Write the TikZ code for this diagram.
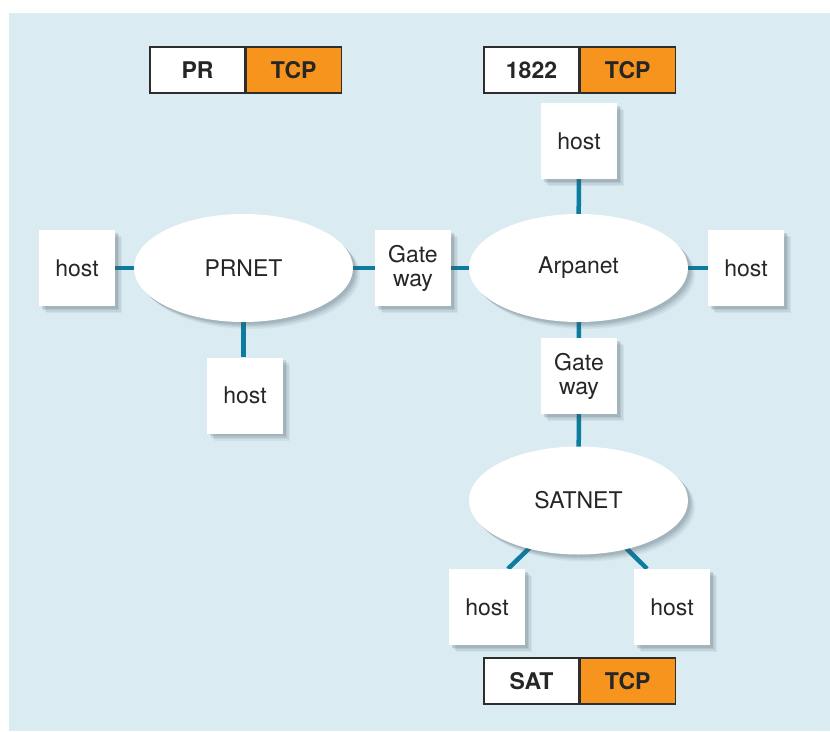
\documentclass[tikz,border=0pt]{standalone}
\usepackage{fontspec}
\setmainfont{TeX Gyre Heros}
\usetikzlibrary{shapes.geometric,shadows}
\definecolor{bgblue}{RGB}{219,235,242}
\definecolor{linkblue}{RGB}{14,124,158}
\definecolor{tcporange}{RGB}{247,148,29}
\definecolor{tagedge}{RGB}{45,45,45}
\definecolor{shadowgray}{RGB}{70,90,100}
\pgfdeclarelayer{bg}
\pgfdeclarelayer{links}
\pgfsetlayers{bg,links,main}
\begin{document}
\begin{tikzpicture}[x=1pt,y=-1pt,
  every node/.style={font=\fontsize{23}{24}\selectfont, text=black!85},
  softshadow/.style={
    drop shadow={shadow xshift=7pt, shadow yshift=-7pt, fill=shadowgray, opacity=.07},
    drop shadow={shadow xshift=5.5pt, shadow yshift=-5.5pt, fill=shadowgray, opacity=.09},
    drop shadow={shadow xshift=4pt, shadow yshift=-4pt, fill=shadowgray, opacity=.12},
    drop shadow={shadow xshift=2.5pt, shadow yshift=-2.5pt, fill=shadowgray, opacity=.15}},
  hostbox/.style={rectangle, fill=white, minimum width=76pt, minimum height=76pt, inner sep=0pt, align=center, softshadow},
  netell/.style={ellipse, fill=white, minimum width=219pt, minimum height=108pt, inner sep=0pt, softshadow},
  tagl/.style={rectangle, draw=tagedge, line width=1.2pt, fill=white, minimum width=95pt, minimum height=46pt, inner sep=0pt, font=\fontsize{23}{24}\selectfont\bfseries},
  tagr/.style={tagl, fill=tcporange},
  link/.style={draw=linkblue, line width=4.5pt}
]
\useasboundingbox (0,0) rectangle (830,731);
\begin{pgfonlayer}{bg}
\fill[white] (0,0) rectangle (830,731);
\fill[bgblue] (9,13) rectangle (830,731);
\end{pgfonlayer}

% tags
\node[tagl] (prl) at (197.5,70) {PR};
\node[tagr, anchor=west] (prr) at (prl.east) {TCP};
\node[tagl] (arl) at (531.5,70) {1822};
\node[tagr, anchor=west] (arr) at (arl.east) {TCP};
\node[tagl] (satl) at (531.5,681) {SAT};
\node[tagr, anchor=west] (satr) at (satl.east) {TCP};

% networks
\node[netell] (prnet) at (243.5,268) {PRNET};
\node[netell] (arpa) at (578.5,268) {Arpanet};
\node[netell] (sat) at (578.5,500.5) {SATNET};

% hosts and gateways
\node[hostbox] (hl) at (77,268) {host};
\node[hostbox] (hpb) at (245,395.5) {host};
\node[hostbox] (gw1) at (413,268) {Gate\\way};
\node[hostbox] (hat) at (579,141) {host};
\node[hostbox] (har) at (746,268) {host};
\node[hostbox] (gw2) at (579,376) {Gate\\way};
\node[hostbox] (hsl) at (487,607) {host};
\node[hostbox] (hsr) at (672,607) {host};

\begin{pgfonlayer}{links}
\draw[link] (hl.center) -- (prnet.center);
\draw[link] (prnet.center) -- (gw1.center);
\draw[link] (gw1.center) -- (arpa.center);
\draw[link] (arpa.center) -- (har.center);
\draw[link] (hat.center) -- (arpa.center);
\draw[link] (arpa.center) -- (gw2.center);
\draw[link] (gw2.center) -- (sat.center);
\draw[link] (prnet.center) -- (prnet.center |- hpb.north);
\draw[link] (sat.center) -- ([xshift=21pt]hsl.north);
\draw[link] (sat.center) -- ([xshift=-25pt]hsr.north);
\end{pgfonlayer}
\end{tikzpicture}
\end{document}
